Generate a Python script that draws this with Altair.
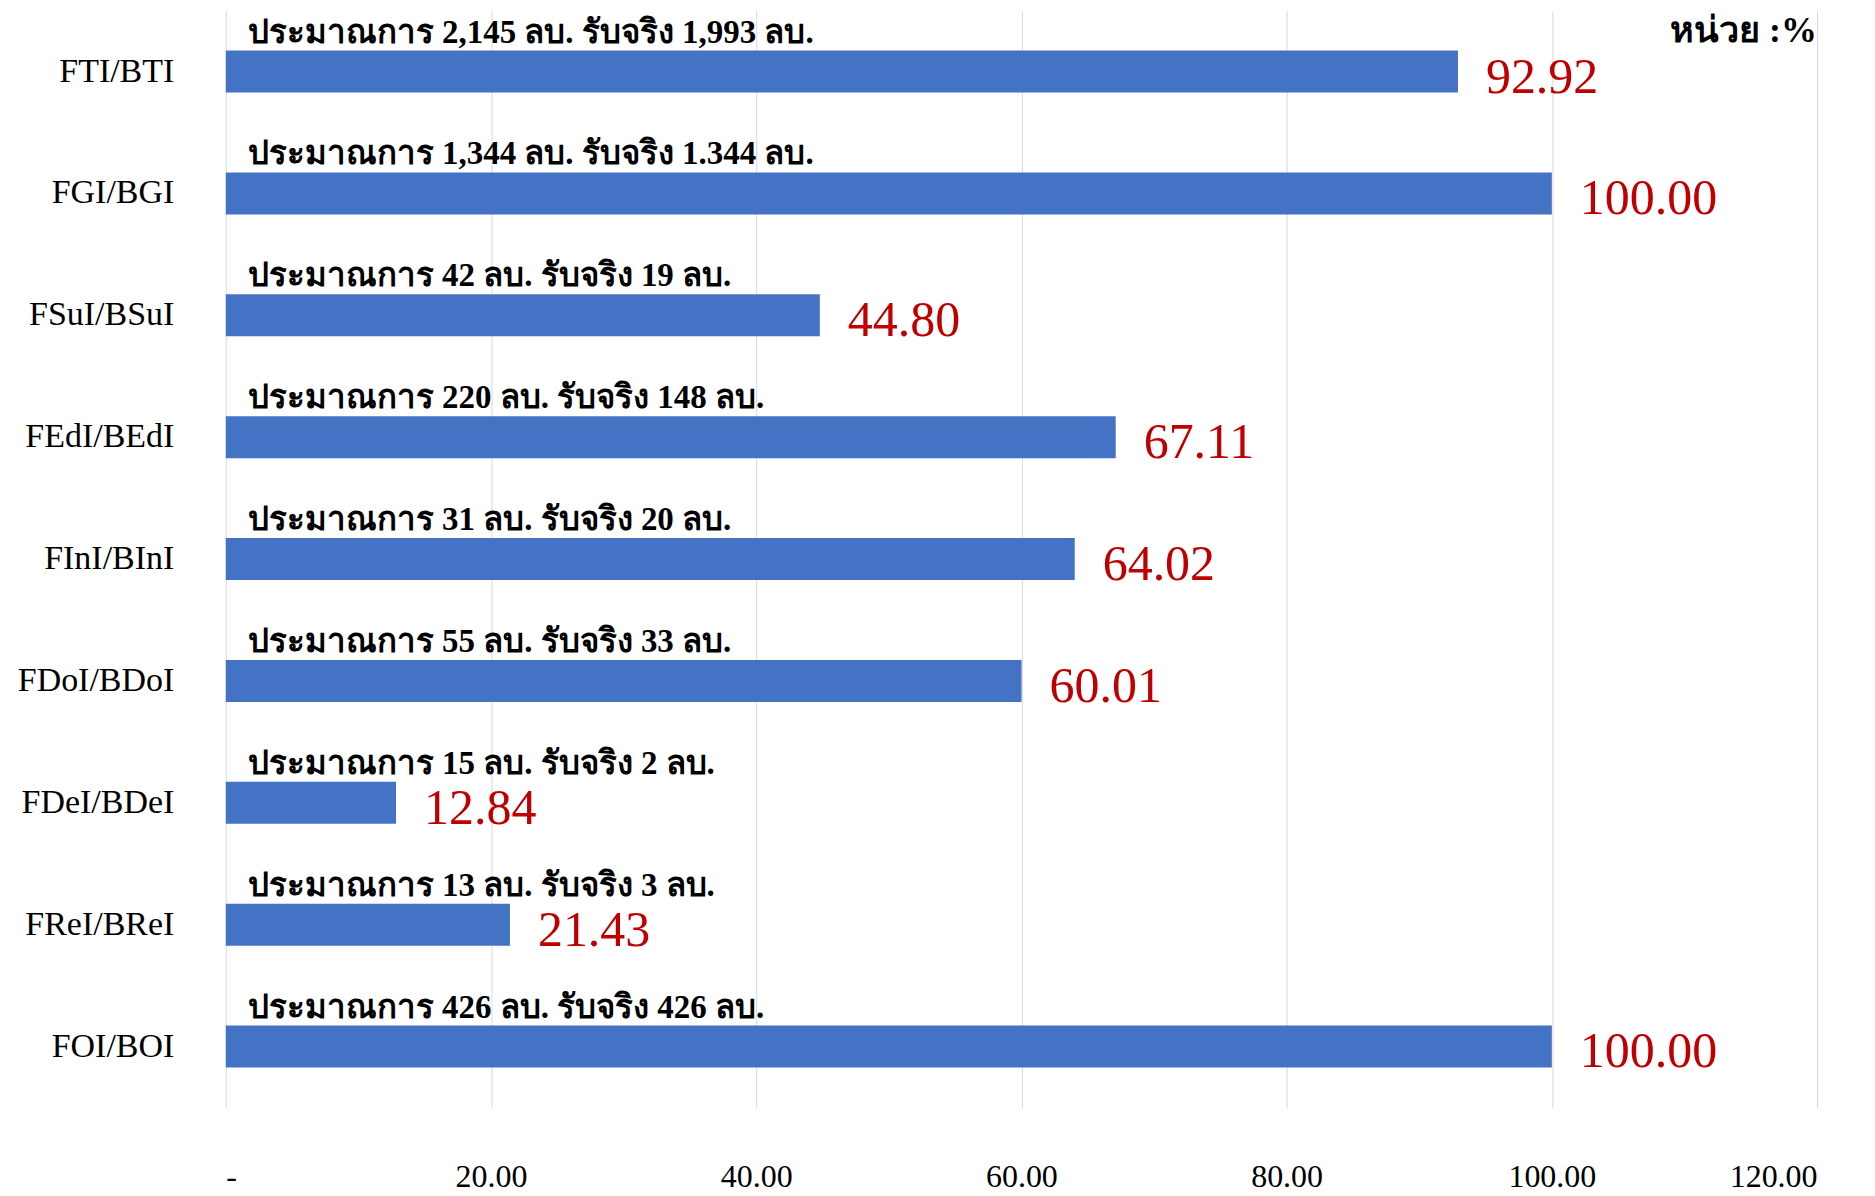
import altair as alt
import pandas as pd

categories = ["FTI/BTI", "FGI/BGI", "FSuI/BSuI", "FEdI/BEdI", "FInI/BInI",
              "FDoI/BDoI", "FDeI/BDeI", "FReI/BReI", "FOI/BOI"]
values = [92.92, 100.00, 44.80, 67.11, 64.02, 60.01, 12.84, 21.43, 100.00]
notes = [
    "ประมาณการ 2,145 ลบ. รับจริง 1,993 ลบ.",
    "ประมาณการ 1,344 ลบ. รับจริง 1.344 ลบ.",
    "ประมาณการ 42 ลบ. รับจริง 19 ลบ.",
    "ประมาณการ 220 ลบ. รับจริง 148 ลบ.",
    "ประมาณการ 31 ลบ. รับจริง 20 ลบ.",
    "ประมาณการ 55 ลบ. รับจริง 33 ลบ.",
    "ประมาณการ 15 ลบ. รับจริง 2 ลบ.",
    "ประมาณการ 13 ลบ. รับจริง 3 ลบ.",
    "ประมาณการ 426 ลบ. รับจริง 426 ลบ.",
]
x_ticks = [0, 20, 40, 60, 80, 100, 120]
unit_label = "หน่วย :%"

df = pd.DataFrame({"cat": categories, "value": values, "note": notes})

W, H = 1593, 1098
SERIF = "Liberation Serif, Times New Roman, serif"

y_enc = alt.Y(
    "cat:N", sort=categories, title=None,
    scale=alt.Scale(paddingInner=0, paddingOuter=0),
    axis=alt.Axis(labelFont=SERIF, labelFontSize=34, labelColor="black",
                  labelPadding=52, ticks=False, domain=False, grid=False),
)
x_enc = alt.X(
    "value:Q", title=None,
    scale=alt.Scale(domain=[0, 120], nice=False, zero=True),
    axis=alt.Axis(values=x_ticks, grid=True, gridColor="#d9d9d9", gridWidth=1,
                  ticks=False, domain=False, labelFont=SERIF, labelFontSize=32,
                  labelColor="black", labelPadding=54,
                  labelExpr="datum.value == 0 ? '-' : format(datum.value, '.2f')"),
)

base = alt.Chart(df)

bars = base.mark_bar(size=42, color="#4472C4").encode(x=x_enc, y=y_enc)

note_text = base.mark_text(
    align="left", baseline="alphabetic", dx=22, dy=-29,
    font=SERIF, fontSize=33, fontWeight="bold", color="black",
).encode(x=alt.datum(0), y=alt.Y("cat:N", sort=categories), text="note:N")

val_text = base.mark_text(
    align="left", baseline="alphabetic", dx=28, dy=21,
    font=SERIF, fontSize=50, color="#C00000",
).encode(x="value:Q", y=alt.Y("cat:N", sort=categories),
         text=alt.Text("value:Q", format=".2f"))

unit = alt.Chart(pd.DataFrame({"t": [unit_label]})).mark_text(
    align="right", baseline="middle", font=SERIF, fontSize=36,
    fontWeight="bold", color="black",
).encode(x=alt.value(W), y=alt.value(20), text="t:N")

chart = alt.layer(bars, note_text, val_text, unit).properties(
    width=W, height=H,
    autosize=alt.AutoSizeParams(type="none"),
    padding={"left": 218, "top": 2, "right": 50, "bottom": 86},
).configure_view(stroke=None)

chart.save("out.html", embed_options={"renderer": "svg", "actions": False})
